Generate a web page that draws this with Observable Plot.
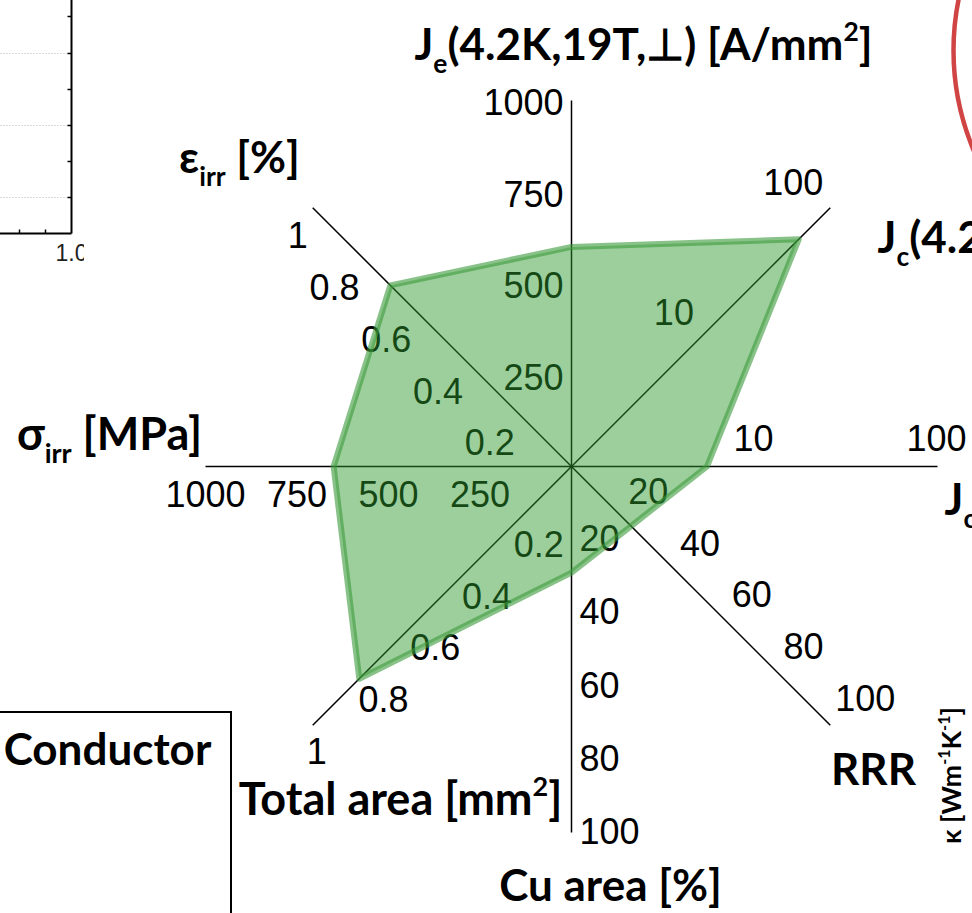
<!DOCTYPE html>
<html><head><meta charset="utf-8">
<script src="https://cdn.jsdelivr.net/npm/d3@7"></script>
<script src="https://cdn.jsdelivr.net/npm/@observablehq/plot@0.6"></script>
<style>html,body{margin:0;padding:0;background:#fff;overflow:hidden} svg{display:block;overflow:hidden}</style>
</head><body><div id="chart"></div>
<script>
// ---------------- DATA ----------------
const axisNames  = ["Je", "JcDiag", "JcRight", "RRR", "Cu", "Total", "Sigma", "Eps"];
const axisTitles = ["J_{e}(4.2K,19T,⊥) [A/mm^{2}]", "J_{c}(4.2", "J_{c}",
                    "RRR", "Cu area [%]", "Total area [mm^{2}]", "σ_{irr} [MPa]", "ε_{irr} [%]"];
const axisTypes  = ["linear", "log", "log", "linear", "linear", "linear", "linear", "linear"];
const axisMin    = [0, 1, 1, 0, 0, 0, 0, 0];
const axisMax    = [1000, 100, 100, 100, 100, 1, 1000, 1];
const axisTicks  = [[250, 500, 750, 1000], [10, 100], [10, 100], [20, 40, 60, 80, 100],
                    [20, 40, 60, 80, 100], [0.2, 0.4, 0.6, 0.8, 1], [250, 500, 750, 1000], [0.2, 0.4, 0.6, 0.8, 1]];
const tickLabels = [["250", "500", "750", "1000"], ["10", "100"], ["10", "100"], ["20", "40", "60", "80", "100"],
                    ["20", "40", "60", "80", "100"], ["0.2", "0.4", "0.6", "0.8", "1"], ["250", "500", "750", "1000"],
                    ["0.2", "0.4", "0.6", "0.8", "1"]];
const conductorValues = [600, 57, 5.5, 23, 29, 0.82, 650, 0.70];
const kappaLabel = "κ [Wm^{-1}K^{-1}]";
const boxLabel = "Conductor";
const fragmentTickLabel = "1.0";

// ---------------- LAYOUT ----------------
const W = 972, H = 913, R = 366, CX = 571, CY = 466;
const ux = px => (px - CX) / R, uy = py => (CY - py) / R;
const axisAngles = [90, 45, 0, -45, -90, -135, 180, 135];

function norm(i, v) {
  if (axisTypes[i] === "log") return (Math.log10(v) - Math.log10(axisMin[i])) / (Math.log10(axisMax[i]) - Math.log10(axisMin[i]));
  return (v - axisMin[i]) / (axisMax[i] - axisMin[i]);
}
function pos(i, v) {
  const r = norm(i, v), a = axisAngles[i] * Math.PI / 180;
  return {x: r * Math.cos(a), y: r * Math.sin(a)};
}

const polygon = conductorValues.map((v, i) => ({axis: axisNames[i], ...pos(i, v)}));
const spokes = axisNames.map((n, i) => ({axis: n, x1: 0, y1: 0, ...(p => ({x2: p.x, y2: p.y}))(pos(i, axisMax[i]))}));

const tickStyle = {
  Je:      {textAnchor: "end",    dx: -8, dy: 3},
  JcDiag:  {textAnchor: "end",    dx: -7, dy: -24},
  JcRight: {textAnchor: "middle", dx: -1, dy: -27},
  RRR:     {textAnchor: "start",  dx: 5,  dy: -26},
  Cu:      {textAnchor: "start",  dx: 8,  dy: 0},
  Total:   {textAnchor: "start",  dx: -6, dy: 27},
  Sigma:   {textAnchor: "middle", dx: 0,  dy: 29},
  Eps:     {textAnchor: "end",    dx: -5, dy: 29}
};
const titlePos = {
  Je:      {x: 643, y: 45,  textAnchor: "middle", size: 44},
  JcDiag:  {x: 877, y: 238, textAnchor: "start",  size: 44},
  JcRight: {x: 944, y: 500, textAnchor: "start",  size: 44},
  RRR:     {x: 873, y: 770, textAnchor: "middle", size: 44},
  Cu:      {x: 610, y: 886, textAnchor: "middle", size: 44},
  Total:   {x: 400, y: 800, textAnchor: "middle", size: 45},
  Sigma:   {x: 109, y: 435, textAnchor: "middle", size: 45},
  Eps:     {x: 239, y: 158, textAnchor: "middle", size: 44}
};

const tickFont = "'Liberation Sans', Arial, sans-serif";
const titleFont = "Lato, 'Open Sans', sans-serif";

const marks = [];

// fragment of a neighbouring chart (top-left)
const fragTicksY = [16, 53, 89, 125, 161, 197];
const fragGridY = [53, 125, 197];
const fragTicksX = [19, 45];
marks.push(
  Plot.link(fragGridY, {x1: ux(0), x2: ux(68), y1: d => uy(d), y2: d => uy(d), stroke: "#b5b5b5", strokeWidth: 1, strokeDasharray: "1,2"}),
  Plot.link(fragTicksY, {x1: ux(67), x2: ux(71), y1: d => uy(d), y2: d => uy(d), stroke: "black", strokeWidth: 1.5}),
  Plot.link(fragTicksX, {x1: d => ux(d), x2: d => ux(d), y1: uy(233), y2: uy(229), stroke: "black", strokeWidth: 1.5}),
  Plot.link([0], {x1: ux(71), x2: ux(71), y1: uy(-5), y2: uy(233), stroke: "black", strokeWidth: 2}),
  Plot.link([0], {x1: ux(-5), x2: ux(71), y1: uy(233), y2: uy(233), stroke: "black", strokeWidth: 2}),
  Plot.text([fragmentTickLabel], {x: ux(71), y: uy(253), text: d => d, fontFamily: tickFont, fontSize: 23, fill: "#222"}),
  Plot.rect([0], {x1: ux(84), x2: ux(120), y1: uy(236), y2: uy(275), fill: "white"})
);

// red circle fragment (top-right)
marks.push(Plot.dot([0], {x: ux(1210), y: uy(50), r: 257, stroke: "#d04444", strokeWidth: 4.5, fill: "none"}));

// conductor box (bottom-left)
marks.push(
  Plot.rect([0], {x1: ux(-5), x2: ux(231), y1: uy(712), y2: uy(930), fill: "none", stroke: "black", strokeWidth: 2}),
  Plot.text([boxLabel], {x: ux(107), y: uy(750), text: d => d, fontFamily: titleFont, fontWeight: "bold", fontSize: 44, fill: "black"})
);

// spokes
marks.push(Plot.link(spokes, {x1: "x1", y1: "y1", x2: "x2", y2: "y2", stroke: "black", strokeWidth: 1.5}));

// tick labels
axisNames.forEach((n, i) => {
  const rows = axisTicks[i].map((v, j) => ({...pos(i, v), label: tickLabels[i][j]}));
  const s = tickStyle[n];
  marks.push(Plot.text(rows, {x: "x", y: "y", text: "label", textAnchor: s.textAnchor, dx: s.dx, dy: s.dy,
    fontFamily: tickFont, fontSize: 36, fill: "black"}));
});

// axis titles
axisNames.forEach((n, i) => {
  const p = titlePos[n];
  marks.push(Plot.text([axisTitles[i]], {x: ux(p.x), y: uy(p.y), text: d => d, textAnchor: p.textAnchor,
    fontFamily: titleFont, fontWeight: "bold", fontSize: p.size, fill: "black"}));
});
marks.push(Plot.text([kappaLabel], {x: ux(952), y: uy(775), text: d => d, rotate: -90,
  fontFamily: titleFont, fontWeight: "bold", fontSize: 27, fill: "black"}));

// conductor polygon (semi-transparent, on top)
marks.push(Plot.line(polygon, {x: "x", y: "y", curve: "linear-closed", fill: "#2f9a2f", fillOpacity: 0.47,
  stroke: "#3a9a3a", strokeOpacity: 0.6, strokeWidth: 6, strokeLinejoin: "round"}));

const chart = Plot.plot({
  width: W, height: H, margin: 0,
  x: {axis: null, domain: [ux(0), ux(W)], range: [0, W]},
  y: {axis: null, domain: [uy(H), uy(0)], range: [H, 0]},
  style: {background: "white"},
  marks
});
document.getElementById("chart").append(chart);

// rich text: sub/superscripts
chart.querySelectorAll("text").forEach(t => {
  const s = t.textContent;
  if (!/[_^]\{/.test(s)) return;
  let fs = 10, el = t;
  while (el && el.getAttribute) { const f = el.getAttribute("font-size"); if (f) { fs = parseFloat(f); break; } el = el.parentNode; }
  const re = /([_^])\{([^}]*)\}|([^_^]+)/g;
  t.textContent = "";
  let cur = 0, m;
  while ((m = re.exec(s))) {
    const ts = document.createElementNS("http://www.w3.org/2000/svg", "tspan");
    let target = 0;
    if (m[1] === "_") { target = 0.3 * fs; ts.setAttribute("font-size", 0.6 * fs); ts.textContent = m[2]; }
    else if (m[1] === "^") { target = -0.42 * fs; ts.setAttribute("font-size", 0.6 * fs); ts.textContent = m[2]; }
    else { ts.textContent = m[3]; }
    if (target !== cur) ts.setAttribute("dy", target - cur);
    cur = target;
    t.appendChild(ts);
  }
});
</script></body></html>
